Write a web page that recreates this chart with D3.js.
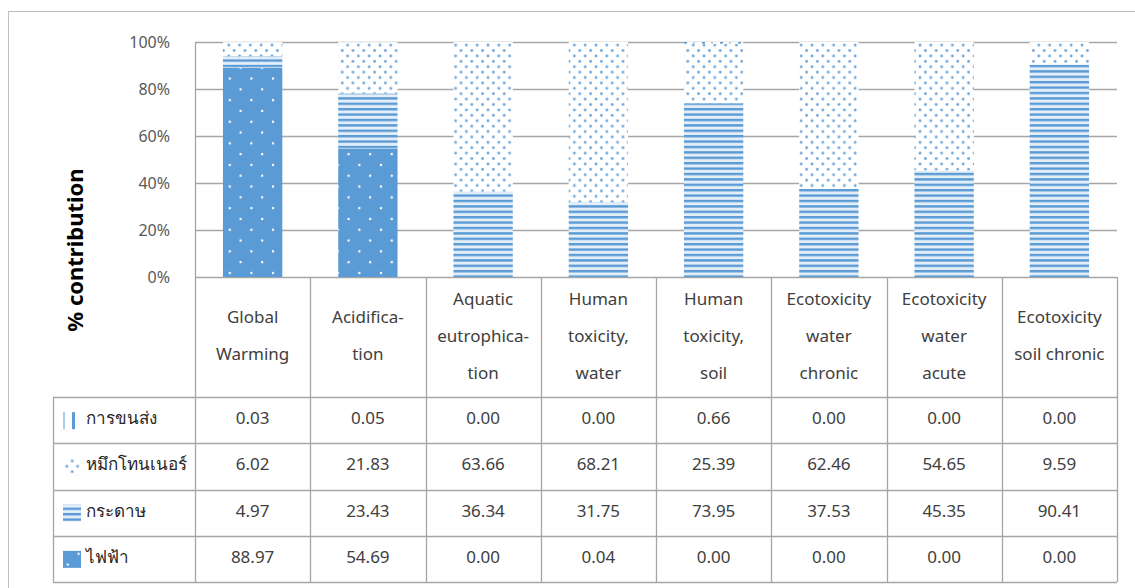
<!DOCTYPE html>
<html>
<head>
<meta charset="utf-8">
<script src="https://cdn.jsdelivr.net/npm/d3@7/dist/d3.min.js"></script>
<style>
  html, body { margin: 0; padding: 0; background: #fff; }
  svg { display: block; font-family: "Noto Sans", "Open Sans", sans-serif; }
</style>
</head>
<body>
<svg id="chart" width="1135" height="588"></svg>
<script>
// Impact categories (header lines per column)
const categories = ["Global Warming", "Acidification", "Aquatic eutrophication",
  "Human toxicity, water", "Human toxicity, soil", "Ecotoxicity water chronic",
  "Ecotoxicity water acute", "Ecotoxicity soil chronic"];
const categoryLines = [
  ["Global", "Warming"],
  ["Acidifica-", "tion"],
  ["Aquatic", "eutrophica-", "tion"],
  ["Human", "toxicity,", "water"],
  ["Human", "toxicity,", "soil"],
  ["Ecotoxicity", "water", "chronic"],
  ["Ecotoxicity", "water", "acute"],
  ["Ecotoxicity", "soil chronic"]
];

// Series, listed in table order (top row first)
const seriesNames = ["การขนส่ง", "หมึกโทนเนอร์", "กระดาษ", "ไฟฟ้า"];
const transport = [0.03, 0.05, 0.00, 0.00, 0.66, 0.00, 0.00, 0.00];
const toner     = [6.02, 21.83, 63.66, 68.21, 25.39, 62.46, 54.65, 9.59];
const paper     = [4.97, 23.43, 36.34, 31.75, 73.95, 37.53, 45.35, 90.41];
const power     = [88.97, 54.69, 0.00, 0.04, 0.00, 0.00, 0.00, 0.00];
const seriesValues = [transport, toner, paper, power];

const yTicks = [0, 0.2, 0.4, 0.6, 0.8, 1.0];

const svg = d3.select("#chart");
const blue = "#5B9BD5";
const gridColor = "#A6A6A6";

// ---- fill patterns ----
const defs = svg.append("defs");
// ไฟฟ้า: solid blue with sparse white dots
const pPower = defs.append("pattern").attr("id", "pat-power")
  .attr("patternUnits", "userSpaceOnUse").attr("width", 21.6).attr("height", 21.6);
pPower.append("rect").attr("width", 21.6).attr("height", 21.6).attr("fill", blue);
[[3, 3], [13.8, 13.8]].forEach(([cx, cy]) =>
  pPower.append("circle").attr("cx", cx).attr("cy", cy).attr("r", 1.2).attr("fill", "#fff"));
// หมึกโทนเนอร์: white with blue dots
const pToner = defs.append("pattern").attr("id", "pat-toner")
  .attr("patternUnits", "userSpaceOnUse").attr("width", 10.8).attr("height", 10.8);
pToner.append("rect").attr("width", 10.8).attr("height", 10.8).attr("fill", "#fff");
[[2, 2], [7.4, 7.4]].forEach(([cx, cy]) =>
  pToner.append("circle").attr("cx", cx).attr("cy", cy).attr("r", 1.4).attr("fill", "#6CA6DA"));
// กระดาษ: narrow horizontal stripes
const pPaper = defs.append("pattern").attr("id", "pat-paper")
  .attr("patternUnits", "userSpaceOnUse").attr("width", 10).attr("height", 5.4);
pPaper.append("rect").attr("width", 10).attr("height", 5.4).attr("fill", "#E3EEF9");
pPaper.append("rect").attr("y", 0).attr("width", 10).attr("height", 2.4).attr("fill", blue);
// การขนส่ง: narrow vertical stripes (anchored at the legend swatch)
const pTrans = defs.append("pattern").attr("id", "pat-transport")
  .attr("patternUnits", "userSpaceOnUse").attr("width", 18).attr("height", 10)
  .attr("patternTransform", "translate(63,0)");
pTrans.append("rect").attr("width", 18).attr("height", 10).attr("fill", "#fff");
pTrans.append("rect").attr("x", 0).attr("width", 2).attr("height", 10).attr("fill", "#A9CBEA");
pTrans.append("rect").attr("x", 9).attr("width", 3).attr("height", 10).attr("fill", blue);

const fills = {
  "การขนส่ง": "url(#pat-transport)",
  "หมึกโทนเนอร์": "url(#pat-toner)",
  "กระดาษ": "url(#pat-paper)",
  "ไฟฟ้า": "url(#pat-power)"
};

// ---- layout ----
const plotLeft = 195, plotRight = 1117;
const plotTop = 42, plotBottom = 277;
const headerBottom = 397;
const rowH = 46.25;
const tableBottom = headerBottom + rowH * seriesNames.length;
const legendLeft = 53;

// outer frame
svg.append("rect").attr("x", 8.5).attr("y", 11.5).attr("width", 1140).attr("height", 600)
  .attr("fill", "none").attr("stroke", "#BFBFBF").attr("stroke-width", 1);

const x = d3.scaleBand().domain(categories).range([plotLeft, plotRight]).padding(0);
const y = d3.scaleLinear().domain([0, 1]).range([plotBottom, plotTop]);

// gridlines
svg.append("g").selectAll("line").data(yTicks).join("line")
  .attr("x1", plotLeft).attr("x2", plotRight)
  .attr("y1", d => Math.round(y(d)) + 0.5).attr("y2", d => Math.round(y(d)) + 0.5)
  .attr("stroke", gridColor).attr("stroke-width", 1.3);

// y axis labels
const yAxis = d3.axisLeft(y).tickValues(yTicks).tickFormat(d3.format(".0%")).tickSize(0).tickPadding(25);
const yg = svg.append("g").attr("transform", `translate(${plotLeft},0)`).call(yAxis);
yg.select(".domain").remove();
yg.selectAll("text").attr("font-size", 16).attr("fill", "#595959")
  .attr("font-family", "'Noto Sans', sans-serif");

// axis title
svg.append("text")
  .attr("transform", `translate(83,250) rotate(-90)`)
  .attr("text-anchor", "middle").attr("font-size", 22).attr("font-weight", "bold")
  .attr("fill", "#000").text("% contribution");

// ---- stacked bars (100% stacked) ----
const stackKeys = ["ไฟฟ้า", "กระดาษ", "หมึกโทนเนอร์", "การขนส่ง"];
const rows = categories.map((c, i) => {
  const r = { category: c };
  seriesNames.forEach((s, k) => { r[s] = seriesValues[k][i]; });
  return r;
});
const stacked = d3.stack().keys(stackKeys).offset(d3.stackOffsetExpand)(rows);
const barW = x.bandwidth() * 0.515;

svg.append("g").selectAll("g").data(stacked).join("g")
  .attr("fill", d => fills[d.key])
  .selectAll("rect").data(d => d).join("rect")
  .attr("x", d => x(d.data.category) + (x.bandwidth() - barW) / 2)
  .attr("width", barW)
  .attr("y", d => y(d[1]))
  .attr("height", d => Math.max(0, y(d[0]) - y(d[1])));

// ---- data table ----
const tbl = svg.append("g").attr("stroke", gridColor).attr("stroke-width", 1.3).attr("fill", "none");
// left axis line through header and table
tbl.append("line").attr("x1", plotLeft + 0.5).attr("x2", plotLeft + 0.5)
  .attr("y1", plotTop).attr("y2", tableBottom);
// category separators
const bounds = categories.map(c => x(c)).concat([plotRight]);
bounds.slice(1).forEach(bx => {
  tbl.append("line").attr("x1", Math.round(bx) + 0.5).attr("x2", Math.round(bx) + 0.5)
    .attr("y1", plotBottom).attr("y2", tableBottom);
});
// row lines
d3.range(seriesNames.length + 1).forEach(k => {
  const ry = Math.round(headerBottom + k * rowH) + 0.5;
  tbl.append("line").attr("x1", legendLeft).attr("x2", plotRight).attr("y1", ry).attr("y2", ry);
});
tbl.append("line").attr("x1", legendLeft + 0.5).attr("x2", legendLeft + 0.5)
  .attr("y1", headerBottom).attr("y2", tableBottom);

// header labels
const lineGap = 37;
const headerMid = (plotBottom + headerBottom) / 2 - 1;
categories.forEach((c, i) => {
  const lines = categoryLines[i];
  const cx = x(c) + x.bandwidth() / 2;
  const t = svg.append("text").attr("text-anchor", "middle").attr("font-size", 17)
    .attr("fill", "#404040");
  lines.forEach((ln, j) => {
    t.append("tspan").attr("x", cx)
      .attr("y", headerMid + (j - (lines.length - 1) / 2) * lineGap)
      .attr("dy", "0.35em").text(ln);
  });
});

// row labels with legend swatches, and values
seriesNames.forEach((s, k) => {
  const ry = headerBottom + k * rowH;
  const mid = ry + rowH / 2;
  svg.append("rect").attr("x", 63).attr("y", mid - 8).attr("width", 18).attr("height", 17)
    .attr("fill", fills[s]);
  svg.append("text").attr("x", 86).attr("y", mid - 2).attr("dy", "0.35em")
    .attr("font-size", 17).attr("fill", "#262626").text(s);
  categories.forEach((c, i) => {
    svg.append("text").attr("x", x(c) + x.bandwidth() / 2).attr("y", mid - 2)
      .attr("dy", "0.35em").attr("text-anchor", "middle")
      .attr("font-size", 17).attr("fill", "#404040")
      .text(seriesValues[k][i].toFixed(2));
  });
});
</script>
</body>
</html>
